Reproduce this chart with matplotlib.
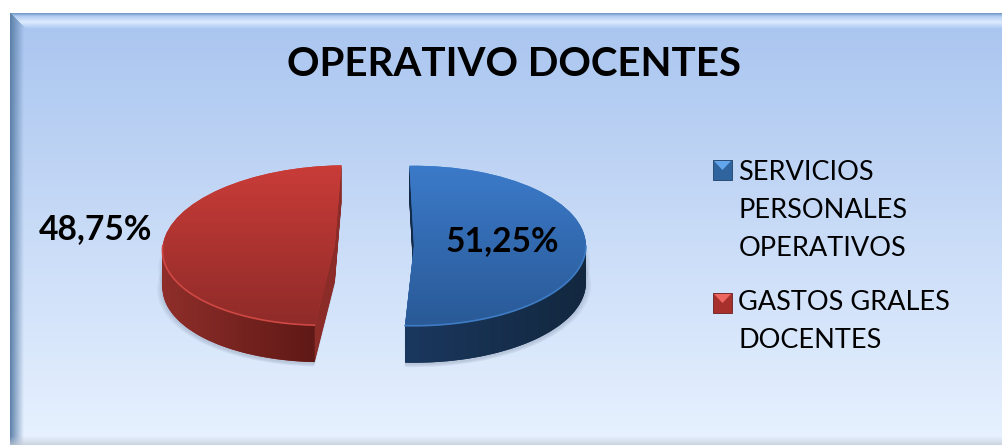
import numpy as np
import matplotlib
matplotlib.use('Agg')
import matplotlib.pyplot as plt
from matplotlib.colors import to_rgb, LinearSegmentedColormap
from matplotlib.patches import Rectangle, Polygon, PathPatch
from matplotlib.path import Path
from matplotlib.transforms import Affine2D

title = 'OPERATIVO DOCENTES'
categories = ['SERVICIOS\nPERSONALES\nOPERATIVOS', 'GASTOS GRALES\nDOCENTES']
values = [51.25, 48.75]
value_labels = ['51,25%', '48,75%']

W, H = 1003, 445
plt.rcParams['font.family'] = ['Lato', 'DejaVu Sans']

# pie geometry in pixels
RX, RY = 172, 80
CX, CY = 373.5, 245.5
DEPTH = 37
lean = [0.0, 0.065]  # front of the red slice leans left
top_colors = [('#3b7ac9', '#2a5a97'), ('#c93c38', '#8f2b29')]
side_colors = [('#1a375e', '#13283f'), ('#8f2e2a', '#5f1916')]
cut_colors = ['#122a48', '#8b2c28']
rim_colors = ['#3f7cc6', '#cf4844']


def background():
    yy, xx = np.mgrid[0:H, 0:W] + 0.5
    top, bottom = np.array(to_rgb('#a8c4ef')), np.array(to_rgb('#e8f2ff'))
    t = np.clip((yy - 13) / (H - 13), 0, 1)[..., None]
    img = top + (bottom - top) * t
    dl, dt = xx - 10, yy - 13
    # top bevel, light band
    band = np.clip(1 - np.abs(dt - 9) / 7, 0, 1)[..., None]
    mask = (dt < dl)[..., None]
    img = img + (np.array(to_rgb('#dcecff')) - img) * band * mask
    edge = np.clip(1 - dt / 3, 0, 1)[..., None]
    img = img + (np.array(to_rgb('#6f95c2')) - img) * edge * mask
    # left bevel, dark band
    fade = np.clip(1 - dl / 14, 0, 1)[..., None]
    mask = (dl <= dt)[..., None]
    img = img + (np.array(to_rgb('#5a7fa8')) - img) * fade * mask
    # bottom shade
    fade = np.clip(1 - (H - yy) / 9, 0, 1)[..., None] * 0.75
    img = img + (np.array(to_rgb('#c2c9d6')) - img) * fade
    img[(dl < 0) | (dt < 0)] = 1.0
    return img


def arc_xy(w, t1, t2, la, drop=0.0):
    t = np.radians(np.linspace(t1, t2, 80))
    x = w.center[0] + np.cos(t) + la * np.sin(t)
    y = w.center[1] + np.sin(t) - drop
    return x, y


def shear(la, cy):
    return Affine2D.from_values(1, 0, la, 1, -la * cy, 0)


def draw_pie(ax, offset, radius=1.0, colors=None, alpha=None):
    wedges, _ = ax.pie(values, colors=colors, startangle=91.5, counterclock=False,
                       explode=[0.235, 0.225], center=(0, offset), radius=radius,
                       wedgeprops={'linewidth': 0, 'alpha': alpha})
    for w, la in zip(wedges, lean):
        w.set_transform(shear(la, offset) + ax.transData)
    return wedges


fig = plt.figure(figsize=(W / 100, H / 100), dpi=100)

bg = fig.add_axes([0, 0, 1, 1])
bg.imshow(background(), extent=(0, W, H, 0), aspect='auto', interpolation='bilinear')
bg.set_xlim(0, W)
bg.set_ylim(H, 0)
bg.axis('off')

ax = fig.add_axes([0, 0, 1, 1], facecolor='none')
xlim = (-CX / RX, (W - CX) / RX)
ylim = ((CY - H) / RY, CY / RY)

# soft shadow round the body
for k in range(3):
    draw_pie(ax, -(DEPTH + 2) / RY, radius=1.03 - k * 0.012, colors=['#3a4a66'] * 2, alpha=0.07)
    draw_pie(ax, -(DEPTH / 2) / RY, radius=1.025 - k * 0.01, colors=['#3a4a66'] * 2, alpha=0.05)

# extruded body, bottom layer first
for d in range(DEPTH, 0, -1):
    draw_pie(ax, -d / RY, colors=cut_colors)

tops = draw_pie(ax, 0.0, colors=[c[0] for c in top_colors])

for i, w in enumerate(tops):
    # outer wall with its horizontal gradient, front half only
    t1, t2 = (w.theta1, 0) if i == 0 else (-180, w.theta2)
    xt, yt = arc_xy(w, t1, t2, lean[i])
    xb, yb = arc_xy(w, t1, t2, lean[i], DEPTH / RY)
    wall = PathPatch(Path(np.r_[np.c_[xt, yt], np.c_[xb, yb][::-1], [[xt[0], yt[0]]]], closed=True),
                     transform=ax.transData, facecolor='none', edgecolor='none')
    ax.add_patch(wall)
    cmap = LinearSegmentedColormap.from_list('side', side_colors[i])
    x0, x1 = min(xt.min(), xb.min()), max(xt.max(), xb.max())
    im = ax.imshow(np.linspace(0, 1, 64)[None, :], cmap=cmap, aspect='auto', zorder=1.5,
                   extent=(x0, x1, yb.min(), yt.max()), interpolation='bilinear')
    im.set_clip_path(wall)

    # top surface with its vertical gradient
    cmap = LinearSegmentedColormap.from_list('top', top_colors[i])
    im = ax.imshow(np.linspace(0, 1, 64)[:, None], cmap=cmap, aspect='auto', zorder=2,
                   extent=(-1.4, 1.4, -1, 1), interpolation='bilinear')
    im.set_clip_path(w)

    # light rim on the front edge
    ax.plot(xt, yt, color=rim_colors[i], lw=1.2, solid_capstyle='round', zorder=3)

ax.set_xlim(*xlim)
ax.set_ylim(*ylim)
ax.set_aspect('auto')
ax.axis('off')


def px_text(x, y, s, **kw):
    return fig.text(x / W, 1 - y / H, s, color='black', **kw)


px_text(514, 64, title, fontsize=29, fontweight='bold', ha='center', va='center')
px_text(502, 241, value_labels[0], fontsize=24.2, fontweight='bold', ha='center', va='center')
px_text(96, 229, value_labels[1], fontsize=24.2, fontweight='bold', ha='center', va='center')

# legend
legend_y = [160, 293]
legend_text_y = [210, 322]
legend_body = ['#2f649f', '#a8302c']
legend_edge = ['#1f3f66', '#6a1f1c']
legend_light = ['#63a6ec', '#ee6660']
for cat, ly, ty, body, edge, light in zip(categories, legend_y, legend_text_y, legend_body, legend_edge, legend_light):
    bg.add_patch(Rectangle((713, ly), 19, 20, facecolor=body, edgecolor=edge, lw=0.6))
    bg.add_patch(Polygon([(714, ly + 1), (731, ly + 1), (722.5, ly + 10)], facecolor=light, edgecolor='none'))
    px_text(738.5, ty, cat, fontsize=19.5, ha='left', va='center', linespacing=1.65)

fig.savefig('out.png', dpi=100)
